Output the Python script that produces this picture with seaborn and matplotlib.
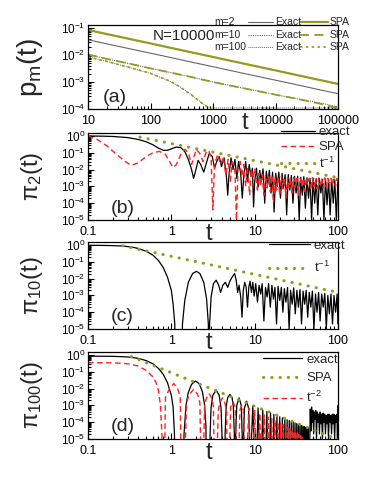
import matplotlib
matplotlib.use("Agg")
import matplotlib.pyplot as plt
from matplotlib.lines import Line2D
from matplotlib.ticker import LogLocator, NullFormatter
import seaborn as sns

# ---------- DATA

# panel (a): p_m(t), N=10000
t_a = [10, 20, 50, 100, 200, 500, 1000, 2000, 5000, 10000, 20000, 50000, 100000]
spa_m2 = [0.085, 0.060, 0.038, 0.027, 0.019, 0.012, 0.0085, 0.006, 0.0038, 0.0027, 0.0019, 0.0012, 0.00085]
exact_m2 = [0.037, 0.026, 0.0165, 0.0117, 0.0083, 0.0052, 0.0037, 0.0026, 0.00165, 0.00117, 0.00083, 0.00052, 0.00037]
spa_m10 = [0.0105, 0.0072, 0.0046, 0.0032, 0.0023, 0.00145, 0.001, 0.00072, 0.00047, 0.00034, 0.00025, 0.00016, 0.000105]
exact_m10 = [0.0105, 0.0072, 0.0046, 0.0032, 0.0023, 0.00145, 0.001, 0.00072, 0.00047, 0.00034, 0.00025, 0.00017, 0.00012]
t_a100 = [10, 20, 50, 100, 200, 300, 500, 700, 900, 1000]
spa_m100 = [0.0085, 0.0058, 0.0033, 0.0021, 0.0011, 0.00065, 0.00028, 0.00015, 0.0001, 0.00008]
t_a100x = [10, 20, 50, 100, 200, 300, 500, 700, 900, 1000, 100000]
exact_m100 = [0.0085, 0.0058, 0.0033, 0.0021, 0.0011, 0.00065, 0.00028, 0.00015, 0.00011, 0.00011, 0.00011]

# panel (b): pi_2(t)
b_exact = [(0.1, 1.0), (0.15, 0.97), (0.2, 0.93), (0.3, 0.8), (0.4, 0.62), (0.5, 0.45), (0.6, 0.3),
           (0.7, 0.19), (0.8, 0.14), (0.9, 0.14), (1.0, 0.17), (1.15, 0.22), (1.3, 0.2), (1.45, 0.12),
           (1.6, 0.04), (1.75, 0.01), (1.85, 0.003), (1.95, 0.008), (2.1, 0.035), (2.25, 0.02),
           (2.45, 0.007), (2.6, 0.02), (2.85, 0.09), (3.1, 0.06), (3.3, 0.012), (3.5, 0.03),
           (3.75, 0.06), (4.0, 0.015), (4.3, 0.05), (4.6, 0.003), (4.75, 0.0003), (4.9, 0.004),
           (5.2, 0.05), (5.5, 0.01), (5.8, 0.04), (6.1, 0.003), (6.4, 0.03), (6.8, 0.006),
           (7.1, 0.0002), (7.4, 0.004), (7.8, 0.03), (8.2, 0.002), (8.6, 0.02), (9.0, 0.004),
           (9.4, 0.012), (9.7, 0.00006), (10.0, 0.002), (10.5, 0.012), (11.0, 0.0009), (11.5, 0.009),
           (12.0, 0.002), (12.6, 0.011), (13.2, 0.0001), (13.8, 0.008), (14.4, 0.0015), (15.0, 0.009),
           (15.7, 0.0004), (16.4, 0.007), (17.1, 0.00003), (17.9, 0.006), (18.7, 0.001), (19.5, 0.007),
           (20.4, 0.0002), (21.3, 0.006), (22.2, 0.0008), (23.2, 0.005), (24.2, 0.00002), (25.3, 0.005),
           (26.4, 0.0006), (27.6, 0.0045), (28.8, 0.0001), (30.1, 0.004), (31.4, 0.0004), (32.8, 0.004),
           (34.2, 0.00001), (35.7, 0.0035), (37.3, 0.0003), (38.9, 0.0038), (40.6, 0.00005), (42.4, 0.0032),
           (44.3, 0.0002), (46.2, 0.003), (48.2, 0.00001), (50.3, 0.003), (52.5, 0.0001), (54.8, 0.0028),
           (57.2, 0.00002), (59.7, 0.003), (62.3, 0.0004), (65.0, 0.0026), (67.8, 0.00001), (70.8, 0.0028),
           (73.9, 0.00008), (77.1, 0.0025), (80.5, 0.00002), (84.0, 0.0027), (87.7, 0.0001), (91.5, 0.0025),
           (95.5, 0.00001), (99.7, 0.0025)]
b_spa = [(0.1, 1.0), (0.13, 0.6), (0.17, 0.25), (0.22, 0.08), (0.28, 0.03), (0.33, 0.018), (0.4, 0.025),
         (0.5, 0.06), (0.6, 0.1), (0.72, 0.12), (0.85, 0.08), (0.95, 0.03), (1.05, 0.013), (1.15, 0.02),
         (1.3, 0.08), (1.45, 0.16), (1.6, 0.1), (1.75, 0.02), (1.85, 0.05), (2.0, 0.16), (2.2, 0.09),
         (2.4, 0.03), (2.6, 0.1), (2.8, 0.14), (3.0, 0.05), (3.15, 0.00004), (3.3, 0.02), (3.6, 0.08),
         (3.9, 0.02), (4.2, 0.06), (4.5, 0.005), (4.8, 0.04), (5.1, 0.002), (5.4, 0.03), (5.8, 0.008),
         (6.05, 0.00001), (6.3, 0.01), (6.7, 0.03), (7.0, 0.004), (7.4, 0.02), (7.8, 0.001), (8.2, 0.015),
         (8.7, 0.0003), (9.1, 0.01), (9.6, 0.003), (10.0, 0.012), (10.3, 0.004), (10.8, 0.0006),
         (11.3, 0.006), (11.8, 0.001), (12.3, 0.005), (12.9, 0.0003), (13.5, 0.005), (14.1, 0.0008),
         (14.7, 0.004), (15.4, 0.0005), (16.1, 0.0045), (16.8, 0.0001), (17.5, 0.004), (18.3, 0.0006),
         (19.1, 0.0035), (20.0, 0.0003), (20.9, 0.004), (21.8, 0.0007), (22.7, 0.0035), (23.7, 0.0002),
         (24.8, 0.0035), (25.9, 0.0008), (27.0, 0.003), (28.2, 0.0004), (29.4, 0.0035), (30.7, 0.0009),
         (32.1, 0.003), (33.5, 0.0003), (35.0, 0.0032), (36.5, 0.001), (38.1, 0.003), (39.8, 0.0005),
         (41.5, 0.0032), (43.3, 0.0012), (45.2, 0.003), (47.2, 0.0006), (49.3, 0.0033), (51.4, 0.001),
         (53.7, 0.003), (56.0, 0.0007), (58.5, 0.0032), (61.0, 0.0012), (63.7, 0.003), (66.5, 0.0008),
         (69.4, 0.0032), (72.4, 0.001), (75.5, 0.003), (78.8, 0.0009), (82.3, 0.003), (85.9, 0.0012),
         (89.6, 0.0028), (93.5, 0.001), (97.6, 0.003), (100.0, 0.0015)]
b_pow_t = [0.42, 100]
b_pow = [0.85, 0.0033]

# panel (c): pi_10(t)
c_exact = [(0.1, 0.95), (0.15, 0.94), (0.2, 0.91), (0.26, 0.86), (0.3, 0.8), (0.35, 0.72), (0.4, 0.62),
           (0.5, 0.42), (0.6, 0.25), (0.7, 0.12), (0.8, 0.045), (0.9, 0.012), (1.0, 0.002), (1.05, 0.0003),
           (1.1, 0.00002), (1.12, 1e-8), (1.33, 1e-8), (1.36, 2e-5), (1.45, 0.0005), (1.6, 0.006),
           (1.8, 0.02), (2.0, 0.027), (2.2, 0.02), (2.45, 0.006), (2.65, 0.0006), (2.78, 2e-5),
           (2.82, 1e-8), (2.88, 2e-5), (3.0, 0.0008), (3.2, 0.005), (3.45, 0.008), (3.7, 0.004),
           (3.9, 0.0015), (4.15, 0.004), (4.45, 0.006), (4.75, 0.003), (5.05, 0.007), (5.4, 0.013),
           (5.75, 0.02), (6.0, 0.008), (6.25, 0.0015), (6.5, 0.004), (6.8, 0.0008), (7.05, 0.00005),
           (7.3, 0.002), (7.6, 0.006), (7.9, 0.003), (8.2, 0.0002), (8.5, 0.003), (8.8, 0.007),
           (9.15, 0.0015), (9.5, 0.006), (9.85, 0.0009), (10.3, 0.005), (10.8, 0.0004), (11.3, 0.004),
           (11.8, 0.0012), (12.3, 0.005), (12.9, 0.00003), (13.5, 0.003), (14.1, 0.0008), (14.7, 0.005),
           (15.4, 0.0002), (16.1, 0.004), (16.8, 0.0006), (17.5, 0.003), (18.3, 0.00002), (19.1, 0.0035),
           (20.0, 0.0005), (20.9, 0.003), (21.8, 0.0001), (22.7, 0.0025), (23.7, 0.0004), (24.8, 0.003),
           (25.9, 0.00001), (27.0, 0.002), (28.2, 0.0003), (29.4, 0.0028), (30.7, 0.00008), (32.1, 0.002),
           (33.5, 0.0002), (35.0, 0.0022), (36.5, 0.00002), (38.1, 0.0018), (39.8, 0.0003), (41.5, 0.002),
           (43.3, 0.00005), (45.2, 0.0015), (47.2, 0.0002), (49.3, 0.0018), (51.4, 0.00001), (53.7, 0.0012),
           (56.0, 0.0001), (58.5, 0.0015), (61.0, 0.00003), (63.7, 0.0012), (66.5, 0.0002), (69.4, 0.0013),
           (72.4, 0.00001), (75.5, 0.001), (78.8, 0.00008), (82.3, 0.0012), (85.9, 0.00002), (89.6, 0.001),
           (93.5, 0.0001), (97.6, 0.0012), (99.8, 0.00002)]
c_pow_t = [0.26, 100]
c_pow = [0.9, 0.0015]

# panel (d): pi_100(t)
d_exact = [(0.1, 0.85), (0.2, 0.83), (0.3, 0.76), (0.4, 0.63), (0.5, 0.46), (0.6, 0.3), (0.7, 0.16),
           (0.8, 0.07), (0.9, 0.022), (1.0, 0.004), (1.05, 0.0008), (1.09, 2e-5), (1.11, 1e-8),
           (1.38, 1e-8), (1.42, 2e-5), (1.5, 0.001), (1.6, 0.006), (1.75, 0.018), (1.95, 0.028),
           (2.15, 0.02), (2.35, 0.007), (2.5, 0.0012), (2.6, 6e-5), (2.64, 1e-8),
           (2.88, 1e-8), (2.92, 2e-5), (3.0, 0.0008), (3.15, 0.004), (3.45, 0.008), (3.75, 0.004),
           (3.95, 0.0007), (4.05, 2e-5), (4.08, 1e-8),
           (4.38, 1e-8), (4.42, 2e-5), (4.55, 0.0008), (4.75, 0.003), (5.05, 0.0045), (5.35, 0.003),
           (5.55, 0.0008), (5.7, 2e-5), (5.72, 1e-8),
           (5.88, 1e-8), (5.92, 2e-5), (6.1, 0.001), (6.5, 0.0028), (6.9, 0.001), (7.08, 2e-5), (7.1, 1e-8),
           (7.33, 1e-8), (7.37, 2e-5), (7.55, 0.0007), (8.0, 0.0018), (8.45, 0.0007), (8.63, 2e-5),
           (8.65, 1e-8), (9.5, 9.4e-4), (10.25, 1e-8), (11.0, 7e-4), (11.75, 1e-8), (12.5, 5.4e-4),
           (13.25, 1e-8), (14.0, 4.3e-4), (14.75, 1e-8), (15.5, 3.5e-4), (16.25, 1e-8), (17.0, 2.9e-4),
           (17.75, 1e-8), (18.5, 2.5e-4), (19.25, 1e-8), (20.0, 2.1e-4), (20.75, 1e-8), (21.5, 1.8e-4),
           (22.25, 1e-8), (23.0, 1.6e-4), (23.75, 1e-8), (24.5, 1.4e-4), (25.25, 1e-8), (26.0, 1.26e-4),
           (26.75, 1e-8), (27.5, 1.1e-4), (28.25, 1e-8), (29.0, 1e-4), (29.75, 1e-8), (30.5, 9.1e-5),
           (31.25, 1e-8), (32.0, 8.3e-5), (32.75, 1e-8), (33.5, 7.6e-5), (34.25, 1e-8), (35.0, 6.9e-5),
           (35.75, 1e-8), (36.5, 6.4e-5), (37.25, 1e-8), (38.0, 5.9e-5), (38.75, 1e-8), (39.5, 5.4e-5),
           (40.25, 1e-8), (41.0, 5e-5), (41.75, 1e-8), (42.5, 4.7e-5), (43.25, 1e-8), (44.0, 4.4e-5),
           (44.75, 1e-8), (46.5, 0.0006), (47.3, 0.00003), (48.2, 0.0008), (49.0, 0.0001), (50.0, 0.0005),
           (51.0, 0.00002), (52.0, 0.0004), (53.0, 0.00015), (54.1, 0.0005), (55.2, 0.00001), (56.3, 0.0004),
           (57.5, 0.0001), (58.7, 0.0003), (59.9, 0.00002), (61.1, 0.0004), (62.4, 0.00008), (63.7, 0.0003),
           (65.0, 0.00001), (66.4, 0.00035), (67.8, 0.0001), (69.2, 0.0003), (70.7, 0.00002), (72.2, 0.00025),
           (73.7, 0.00008), (75.3, 0.0003), (76.9, 0.00001), (78.5, 0.0003), (80.2, 0.0001), (81.9, 0.00025),
           (83.7, 0.00002), (85.5, 0.0003), (87.3, 0.00008), (89.2, 0.0003), (91.1, 0.00001), (93.1, 0.00025),
           (95.1, 0.0001), (97.2, 0.0003), (98.5, 0.00001), (99.5, 0.001)]
d_red = [(0.1, 0.35), (0.2, 0.34), (0.3, 0.3), (0.4, 0.22), (0.5, 0.12), (0.6, 0.05), (0.65, 0.025),
         (0.7, 0.008), (0.74, 0.001), (0.77, 2e-5), (0.78, 1e-8),
         (0.82, 1e-8), (0.85, 0.003), (0.95, 0.01), (1.07, 0.02), (1.19, 0.01), (1.28, 0.003), (1.32, 1e-8),
         (1.42, 1e-8), (1.52, 0.0014), (1.64, 0.0045), (1.85, 0.009), (2.07, 0.0045), (2.2, 0.0014), (2.3, 1e-8),
         (2.4, 1e-8), (2.5, 0.0008), (2.62, 0.0025), (2.85, 0.005), (3.07, 0.0025), (3.2, 0.0008), (3.3, 1e-8),
         (3.45, 1e-8), (3.65, 0.0004), (3.8, 0.0014), (4.1, 0.0028), (4.4, 0.0014), (4.6, 0.0004), (4.75, 1e-8),
         (4.85, 1e-8), (5.15, 0.0008), (5.5, 0.0016), (5.85, 0.0008), (6.2, 1e-8),
         (6.3, 1e-8), (6.65, 0.0005), (7.0, 0.001), (7.35, 0.0005), (7.7, 1e-8),
         (7.8, 1e-8), (8.5, 0.0007), (9.2, 1e-8), (10.0, 0.0005), (10.75, 1e-8), (11.5, 0.00035),
         (12.25, 1e-8), (13.0, 0.00027), (13.75, 1e-8), (14.5, 0.0002), (15.25, 1e-8), (16.0, 0.00016),
         (16.75, 1e-8), (17.5, 0.00013), (18.25, 1e-8), (19.0, 0.0001), (19.75, 1e-8), (20.5, 8.5e-5),
         (21.25, 1e-8), (22.0, 7e-5), (22.75, 1e-8), (23.5, 6e-5), (24.25, 1e-8), (25.0, 5e-5),
         (25.75, 1e-8), (26.5, 4.2e-5), (27.25, 1e-8), (28.0, 3.6e-5), (28.75, 1e-8), (29.5, 3e-5),
         (30.25, 1e-8), (31.0, 2.6e-5), (31.75, 1e-8), (32.5, 2.2e-5), (33.25, 1e-8), (34.0, 1.9e-5),
         (34.75, 1e-8), (35.5, 1.6e-5), (36.25, 1e-8), (37.0, 1.3e-5), (37.75, 1e-8), (38.5, 1.1e-5),
         (39.25, 1e-8)]
d_pow_t = [0.33, 100]
d_pow = [0.8, 9e-6]

OLIVE = "#929c1e"
RED = "#ff2020"
GRAY = "#666666"
DOT = (0, (0.1, 2.6))
DASH = (0, (4, 2.5))

# ---------- STYLE
sns.set_theme(style="ticks")
plt.rcParams['font.family'] = ['Liberation Sans', 'DejaVu Sans']
plt.rcParams['mathtext.fontset'] = 'custom'
plt.rcParams['mathtext.rm'] = 'Liberation Sans'
plt.rcParams['mathtext.it'] = 'Liberation Sans:italic'
plt.rcParams['mathtext.default'] = 'regular'


def split(pairs):
    return [p[0] for p in pairs], [p[1] for p in pairs]


def style_axis(ax, xticks, xlabels, ylim):
    ax.set_xscale('log')
    ax.set_yscale('log')
    ax.set_xlim(xticks[0], xticks[-1])
    ax.set_ylim(*ylim)
    ax.set_xticks(xticks, xlabels)
    ax.xaxis.set_minor_formatter(NullFormatter())
    ax.yaxis.set_major_locator(LogLocator(base=10, numticks=12))
    ax.yaxis.set_minor_locator(LogLocator(base=10, subs=range(2, 10), numticks=12))
    ax.yaxis.set_minor_formatter(NullFormatter())
    ax.tick_params(which='both', direction='in', top=False, right=False, width=0.8, colors='black')
    ax.tick_params(which='major', length=4)
    ax.tick_params(which='minor', length=2)
    ax.tick_params(axis='x', labelsize=9, pad=4.5)
    ax.tick_params(axis='y', labelsize=8.5, pad=2)
    for s in ax.spines.values():
        s.set_linewidth(0.9)
        s.set_color('black')


fig = plt.figure(figsize=(3.74, 4.82), dpi=100)
L, W = 88 / 374, 250 / 374
ax_a = fig.add_axes([L, 1 - 109 / 482, W, 84 / 482])
ax_b = fig.add_axes([L, 1 - 220 / 482, W, 87 / 482])
ax_c = fig.add_axes([L, 1 - 329 / 482, W, 87 / 482])
ax_d = fig.add_axes([L, 1 - 439 / 482, W, 87 / 482])

# ---------- (a)
ax = ax_a
sns.lineplot(x=t_a, y=exact_m2, ax=ax, color=GRAY, lw=0.8, estimator=None, sort=False)
sns.lineplot(x=t_a, y=spa_m2, ax=ax, color=OLIVE, lw=1.6, estimator=None, sort=False)
sns.lineplot(x=t_a, y=exact_m10, ax=ax, color=GRAY, lw=0.8, linestyle=(0, (1, 1)), estimator=None, sort=False)
sns.lineplot(x=t_a, y=spa_m10, ax=ax, color=OLIVE, lw=1.3, linestyle=(0, (5, 3)), estimator=None, sort=False)
sns.lineplot(x=t_a100x, y=exact_m100, ax=ax, color=GRAY, lw=0.7, linestyle=(0, (1, 1)), estimator=None, sort=False)
sns.lineplot(x=t_a100, y=spa_m100, ax=ax, color=OLIVE, lw=1.2, linestyle=(0, (1.5, 2)), estimator=None, sort=False)
style_axis(ax, [10, 100, 1000, 10000, 100000], ['10', '100', '1000', '10000', '100000'], (1e-4, 0.13))
ax.set_ylabel(r'$\mathrm{p_m(t)}$', fontsize=20)
ax.text(0.06, 0.14, '(a)', transform=ax.transAxes, fontsize=14, va='center', ha='left')
ax.text(0.258, 0.875, 'N=10000', transform=ax.transAxes, fontsize=11, va='center', ha='left')
ax.text(0.628, -0.03, 't', transform=ax.transAxes, fontsize=17, va='top', ha='center')
# key laid out as in the original: "m=.. [exact line] Exact [SPA line] SPA"
key_rows = [1.036, 0.885, 0.738]
key_m = ['m=2', 'm=10', 'm=100']
key_exact = [dict(ls='-', lw=0.8), dict(ls=(0, (1, 1)), lw=0.8), dict(ls=(0, (1, 1)), lw=0.7)]
key_spa = [dict(ls='-', lw=1.6), dict(ls=(0, (5, 3)), lw=1.3), dict(ls=(0, (1.5, 2)), lw=1.2)]
for yk, lab, ke, ks in zip(key_rows, key_m, key_exact, key_spa):
    ax.text(0.505, yk, lab, transform=ax.transAxes, fontsize=7.5, va='center', ha='left')
    ax.add_line(Line2D([0.64, 0.74], [yk, yk], transform=ax.transAxes, color=GRAY, clip_on=False, **ke))
    ax.text(0.748, yk, 'Exact', transform=ax.transAxes, fontsize=7.5, va='center', ha='left')
    ax.add_line(Line2D([0.848, 0.958], [yk, yk], transform=ax.transAxes, color=OLIVE, clip_on=False, **ks))
    ax.text(0.968, yk, 'SPA', transform=ax.transAxes, fontsize=7.5, va='center', ha='left')

xt = [0.1, 1, 10, 100]
xl = ['0.1', '1', '10', '100']
ylim = (1e-5, 1.5)

# ---------- (b)
ax = ax_b
x, y = split(b_exact)
sns.lineplot(x=x, y=y, ax=ax, color='black', lw=0.9, estimator=None, sort=False)
x, y = split(b_spa)
sns.lineplot(x=x, y=y, ax=ax, color=RED, lw=1.0, linestyle=DASH, estimator=None, sort=False)
sns.lineplot(x=b_pow_t, y=b_pow, ax=ax, color=OLIVE, lw=2.2, linestyle=DOT, dash_capstyle='round',
             estimator=None, sort=False)
style_axis(ax, xt, xl, ylim)
ax.set_ylabel(r'$\mathrm{π_2(t)}$', fontsize=17)
ax.text(0.09, 0.13, '(b)', transform=ax.transAxes, fontsize=14, va='center', ha='left')
ax.text(0.484, -0.03, 't', transform=ax.transAxes, fontsize=17, va='top', ha='center')
hb = [Line2D([], [], color='black', lw=0.9), Line2D([], [], color=RED, lw=1.0, ls=DASH),
      Line2D([], [], color=OLIVE, lw=2.2, ls=DOT, dash_capstyle='round')]
ax.legend(hb, ['exact', 'SPA', r'$\mathrm{t^{-1}}$'], loc='upper right', bbox_to_anchor=(1.05, 1.08),
          frameon=False, fontsize=9.5, handlelength=2.6, handletextpad=0.3, labelspacing=0.2,
          borderpad=0, borderaxespad=0)

# ---------- (c)
ax = ax_c
x, y = split(c_exact)
sns.lineplot(x=x, y=y, ax=ax, color='black', lw=0.9, estimator=None, sort=False)
sns.lineplot(x=c_pow_t, y=c_pow, ax=ax, color=OLIVE, lw=2.2, linestyle=DOT, dash_capstyle='round',
             estimator=None, sort=False)
style_axis(ax, xt, xl, ylim)
ax.set_ylabel(r'$\mathrm{π_{10}(t)}$', fontsize=17)
ax.text(0.09, 0.14, '(c)', transform=ax.transAxes, fontsize=14, va='center', ha='left')
ax.text(0.484, -0.03, 't', transform=ax.transAxes, fontsize=17, va='top', ha='center')
hc = [Line2D([], [], color='black', lw=0.9), Line2D([], [], color=OLIVE, lw=2.2, ls=DOT, dash_capstyle='round')]
ax.legend(hc, ['exact', r'$\mathrm{t^{-1}}$'], loc='upper right', bbox_to_anchor=(1.03, 1.03),
          frameon=False, fontsize=9.5, handlelength=3.1, handletextpad=0.3, labelspacing=0.65,
          borderpad=0, borderaxespad=0)

# ---------- (d)
ax = ax_d
x, y = split(d_exact)
sns.lineplot(x=x, y=y, ax=ax, color='black', lw=0.9, estimator=None, sort=False)
x, y = split(d_red)
sns.lineplot(x=x, y=y, ax=ax, color=RED, lw=1.0, linestyle=DASH, estimator=None, sort=False)
sns.lineplot(x=d_pow_t, y=d_pow, ax=ax, color=OLIVE, lw=2.2, linestyle=DOT, dash_capstyle='round',
             estimator=None, sort=False)
style_axis(ax, xt, xl, ylim)
ax.set_ylabel(r'$\mathrm{π_{100}(t)}$', fontsize=17)
ax.text(0.09, 0.14, '(d)', transform=ax.transAxes, fontsize=14, va='center', ha='left')
ax.text(0.484, -0.03, 't', transform=ax.transAxes, fontsize=17, va='top', ha='center')
hd = [Line2D([], [], color='black', lw=0.9), Line2D([], [], color=OLIVE, lw=2.2, ls=DOT, dash_capstyle='round'),
      Line2D([], [], color=RED, lw=1.0, ls=DASH)]
ax.legend(hd, ['exact', 'SPA', r'$\mathrm{t^{-2}}$'], loc='upper right', bbox_to_anchor=(1.0, 0.98),
          frameon=False, fontsize=9.5, handlelength=3.0, handletextpad=0.3, labelspacing=0.45,
          borderpad=0, borderaxespad=0)

for ax in (ax_a, ax_b, ax_c, ax_d):
    ax.yaxis.set_label_coords(-0.172, 0.5)

fig.savefig("out.png", dpi=100)
